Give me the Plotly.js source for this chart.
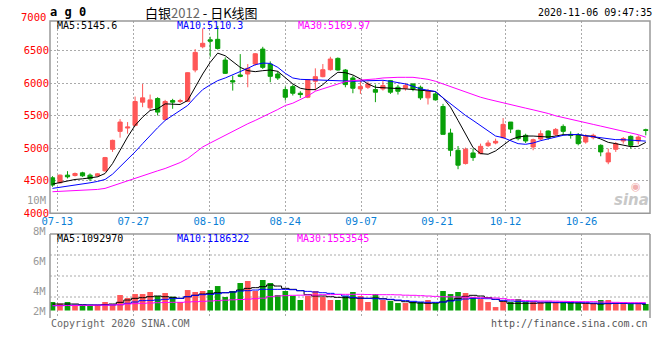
<!DOCTYPE html>
<html><head><meta charset="utf-8">
<script src="https://cdn.plot.ly/plotly-3.0.1.min.js"></script>
<style>html,body{margin:0;padding:0;background:#fff}#chart{width:660px;height:360px}</style>
</head><body><div id="chart"></div>
<script>
const dates=["07-10","07-13","07-14","07-15","07-16","07-17","07-20","07-21","07-22","07-23","07-24","07-27","07-28","07-29","07-30","07-31",
"08-03","08-04","08-05","08-06","08-07","08-10","08-11","08-12","08-13","08-14","08-17","08-18","08-19","08-20","08-21","08-24","08-25","08-26","08-27","08-28","08-31",
"09-01","09-02","09-03","09-04","09-07","09-08","09-09","09-10","09-11","09-14","09-15","09-16","09-17","09-18","09-21","09-22","09-23","09-24","09-25","09-28","09-29","09-30",
"10-09","10-12","10-13","10-14","10-15","10-16","10-19","10-20","10-21","10-22","10-23","10-26","10-27","10-28","10-29","10-30",
"11-02","11-03","11-04","11-05","11-06"];
const open=[4546,4469,4587,4581,4622,4587,4576,4653,4984,5260,5311,5352,5709,5622,5765,5443,5734,5719,5719,6203,6561,6668,6675,6356,6040,6127,6142,6295,6525,6295,6142,5902,5948,5846,5785,6030,6101,6208,6382,6203,6081,5913,5938,5902,5913,6040,5938,5923,5989,5938,5775,5836,5642,5234,4969,4765,4928,4918,5040,5081,5163,5403,5275,5199,5020,5142,5265,5214,5336,5214,5199,5096,5163,5045,4790,4984,5112,5183,5112,5285];
const high=[4571,4597,4648,4627,4638,4612,4617,4867,5132,5448,5403,5795,5989,5826,5785,5744,5760,5760,6168,6525,6844,6715,6880,6397,6117,6448,6295,6463,6560,6336,6183,5948,5979,5877,6065,6229,6295,6407,6397,6219,6117,6040,6025,5979,6040,6050,5974,6004,5999,5964,5913,5862,5683,5301,5035,5010,4995,5071,5122,5148,5464,5403,5285,5224,5148,5275,5275,5311,5367,5260,5234,5214,5224,5061,4995,5096,5173,5199,5199,5301];
const low=[4408,4459,4536,4566,4561,4495,4561,4638,4944,5163,5224,5336,5632,5581,5505,5428,5607,5693,5709,6168,6537,6408,6518,6142,5887,6091,5938,6270,6219,6015,6050,5734,5811,5775,5770,5887,6091,6193,6193,5938,5846,5836,5913,5709,5887,5836,5826,5887,5877,5744,5673,5734,5214,4877,4678,4750,4806,4908,5020,5061,5148,5234,5122,5081,4969,5122,5132,5188,5199,5148,5045,5071,5137,4877,4755,4944,5071,4995,5061,5199];
const close=[4434,4587,4561,4612,4576,4530,4607,4857,5122,5403,5326,5719,5775,5744,5556,5719,5709,5734,6162,6474,6614,6647,6534,6152,6020,6106,6229,6453,6244,6106,6081,5785,5846,5826,6055,6101,6208,6372,6203,5979,5923,5948,5989,5862,5964,5862,5877,5964,5913,5775,5887,5744,5214,4969,4740,4984,4857,5030,5081,5107,5367,5295,5148,5112,5132,5224,5163,5290,5260,5199,5071,5183,5199,4944,4928,5071,5148,5045,5173,5275];
const ma5=[4449,4474,4495,4520,4530,4546,4561,4612,4765,4969,5173,5352,5479,5581,5607,5683,5683,5673,5734,5938,6142,6321,6463,6423,6336,6244,6193,6178,6193,6203,6183,6081,5989,5923,5902,5902,5979,6081,6168,6162,6127,6066,5989,5938,5928,5923,5918,5913,5902,5887,5882,5872,5775,5632,5428,5224,5010,4918,4908,4959,5046,5132,5173,5188,5188,5183,5173,5188,5209,5209,5209,5193,5183,5142,5091,5071,5051,5025,5030,5090];
const ma10=[4383,4398,4418,4434,4449,4469,4490,4520,4602,4714,4826,4944,5071,5199,5316,5428,5505,5571,5658,5785,5902,5974,6040,6081,6127,6183,6229,6285,6310,6305,6244,6152,6081,6060,6055,6050,6050,6050,6045,6035,6030,6035,6040,6045,6045,6030,6015,5989,5953,5913,5892,5872,5775,5683,5591,5505,5428,5352,5275,5188,5163,5112,5071,5061,5081,5117,5148,5173,5199,5209,5214,5193,5178,5158,5142,5132,5132,5127,5112,5110];
const ma30=[4332,4337,4342,4347,4352,4357,4367,4383,4423,4459,4495,4536,4581,4617,4653,4689,4734,4780,4842,4928,5020,5081,5142,5199,5260,5326,5377,5428,5479,5540,5596,5658,5693,5744,5805,5877,5913,5953,5989,6025,6040,6045,6055,6066,6081,6091,6091,6091,6091,6076,6060,6030,5989,5948,5902,5862,5821,5785,5754,5729,5703,5673,5647,5617,5591,5566,5535,5499,5474,5443,5428,5397,5367,5341,5316,5285,5260,5239,5209,5170];
// volume in millions of lots
const volumeM=[1.47,1.18,1.47,1.01,0.95,0.95,0.95,1.47,1.01,2.67,2.16,2.84,2.84,3.19,2.50,3.02,2.38,1.47,3.53,3.19,3.36,3.53,4.22,2.33,3.36,4.74,5.09,3.36,5.26,4.74,2.67,3.36,2.50,1.81,2.50,3.36,2.33,1.81,1.81,2.50,3.19,2.50,1.47,2.84,1.81,1.64,1.29,1.29,1.47,1.47,1.81,1.29,3.36,2.84,3.19,3.02,2.33,1.98,1.47,0.60,1.47,1.47,1.98,1.47,1.47,1.47,1.47,1.47,1.47,1.47,1.47,1.29,1.29,1.81,1.81,1.29,1.29,1.29,1.29,1.12];
const volMa5=[1.12,1.12,1.12,1.12,1.01,0.95,0.95,1.01,1.12,1.41,1.81,2.10,2.21,2.38,2.50,2.38,2.27,2.10,2.38,2.62,2.84,2.96,3.07,3.07,3.19,3.53,3.82,3.94,4.11,4.40,4.22,3.82,3.65,3.42,2.73,2.50,2.50,2.38,2.27,2.21,2.16,2.10,2.10,2.16,2.04,1.87,1.70,1.52,1.35,1.29,1.24,1.29,1.47,1.75,2.10,2.44,2.62,2.50,2.21,1.93,1.58,1.24,1.24,1.24,1.24,1.29,1.35,1.35,1.35,1.29,1.29,1.24,1.18,1.12,1.18,1.24,1.24,1.24,1.24,1.09];
const volMa10=[0.83,0.86,0.89,0.92,0.95,0.95,0.95,0.95,0.95,1.01,1.24,1.47,1.70,1.75,1.81,1.93,2.04,2.10,2.38,2.62,2.73,2.79,2.90,3.07,3.19,3.36,3.42,3.53,3.65,3.65,3.65,3.65,3.59,3.42,3.30,3.19,3.07,2.96,2.79,2.50,2.27,2.16,2.10,2.04,1.98,1.93,1.81,1.70,1.58,1.47,1.41,1.41,1.47,1.64,1.81,1.98,2.10,2.10,2.04,1.93,1.75,1.64,1.58,1.52,1.52,1.47,1.47,1.41,1.41,1.41,1.41,1.35,1.29,1.24,1.24,1.24,1.24,1.18,1.18,1.19];
const volMa30=[0.83,0.83,0.86,0.86,0.89,0.89,0.92,0.92,0.95,1.01,1.12,1.18,1.24,1.29,1.35,1.38,1.41,1.41,1.47,1.52,1.58,1.64,1.70,1.78,1.84,1.90,1.95,2.04,2.13,2.38,2.50,2.56,2.62,2.64,2.67,2.67,2.73,2.73,2.76,2.79,2.79,2.79,2.76,2.73,2.73,2.73,2.70,2.64,2.62,2.56,2.50,2.44,2.38,2.36,2.33,2.30,2.27,2.21,2.16,2.16,2.04,1.87,1.81,1.70,1.67,1.64,1.64,1.61,1.58,1.55,1.52,1.52,1.52,1.47,1.44,1.41,1.38,1.35,1.35,1.36];
const tickDates=["07-13","07-27","08-10","08-24","09-07","09-21","10-12","10-26"];
const priceTicks=[4000,4500,5000,5500,6000,6500];
const topPriceLabel="7000";
const volTickLabels=["8M","6M","4M","2M"];
const priceMaText=["MA5:5145.6","MA10:5110.3","MA30:5169.97"];
const volMaText=["MA5:1092970","MA10:1186322","MA30:1553545"];

const RED="#ff5757", GREEN="#08a008", MONO="DejaVu Sans Mono, Liberation Mono, monospace";
const GRID="#aaaaaa";
const idx=dates.map((d,i)=>i);
// pixel helpers for layout placement
const PL=50,PR=650,PT=21,PB=318;
const px=v=>(v-PL)/(PR-PL), py=v=>(PB-v)/(PB-PT);
const tickPos=tickDates.map(d=>dates.indexOf(d)*1.0116-0.373);

const traces=[
 {type:'candlestick',x:idx,open:open,high:high,low:low,close:close,xaxis:'x',yaxis:'y',
  increasing:{line:{color:RED,width:1},fillcolor:RED},decreasing:{line:{color:GREEN,width:1},fillcolor:GREEN},
  whiskerwidth:0,hoverinfo:'skip',showlegend:false},
 {type:'scatter',mode:'lines',x:idx,y:ma5,line:{color:'#000',width:1},xaxis:'x',yaxis:'y',hoverinfo:'skip'},
 {type:'scatter',mode:'lines',x:idx,y:ma10,line:{color:'#0000ff',width:1},xaxis:'x',yaxis:'y',hoverinfo:'skip'},
 {type:'scatter',mode:'lines',x:idx,y:ma30,line:{color:'#ff00ff',width:1},xaxis:'x',yaxis:'y',hoverinfo:'skip'},
 {type:'bar',x:idx,y:volumeM,width:0.75,marker:{color:idx.map(i=>close[i]>=open[i]?RED:GREEN),line:{width:0}},xaxis:'x2',yaxis:'y2',hoverinfo:'skip'},
 {type:'scatter',mode:'lines',x:idx,y:volMa5,line:{color:'#000',width:1,shape:'hvh'},xaxis:'x2',yaxis:'y2',hoverinfo:'skip'},
 {type:'scatter',mode:'lines',x:idx,y:volMa10,line:{color:'#0000ff',width:1,shape:'hvh'},xaxis:'x2',yaxis:'y2',hoverinfo:'skip'},
 {type:'scatter',mode:'lines',x:idx,y:volMa30,line:{color:'#ff00ff',width:1,shape:'hvh'},xaxis:'x2',yaxis:'y2',hoverinfo:'skip'}
];

function ann(text,x,y,opt){return Object.assign({text:text,x:px(x),y:py(y),xref:'paper',yref:'paper',showarrow:false,xanchor:'left',yanchor:'middle',font:{family:MONO,size:10,color:'#000'}},opt||{});}
const annotations=[
 ann('a g 0',48,12,{font:{family:MONO,size:12,color:'#000',weight:'bold'}}),
 ann('白银<span style="color:#666">2012</span> - 日K线图',201,12,{xanchor:'center',font:{family:'Noto Sans CJK SC',size:13,color:'#000'}}),
 ann('2020-11-06 09:47:35',654,12,{xanchor:'right'}),
 ann(topPriceLabel,47.5,17,{xanchor:'right',font:{family:MONO,size:10.5,color:'#ff0000'}}),
 ann('10M',47.5,200,{xanchor:'right',font:{family:MONO,size:10.5,color:'#999'}}),
 ann(priceMaText[0],55,25,{font:{family:MONO,size:10,color:'#000'}}),
 ann(priceMaText[1],175,25,{font:{family:MONO,size:10,color:'#0000ff'}}),
 ann(priceMaText[2],296,25,{font:{family:MONO,size:10,color:'#ff00ff'}}),
 ann(volMaText[0],55,238.5,{font:{family:MONO,size:10,color:'#000'}}),
 ann(volMaText[1],175,238.5,{font:{family:MONO,size:10,color:'#0000ff'}}),
 ann(volMaText[2],295,238.5,{font:{family:MONO,size:10,color:'#ff00ff'}}),
 ann('Copyright 2020 SINA.COM',49,323.5,{font:{family:MONO,size:10,color:'#666'}}),
 ann('http://finance.sina.com.cn',650,323.5,{xanchor:'right',font:{family:MONO,size:10,color:'#555'}}),
 ann('<i><b>sina</b></i>',651,200,{xanchor:'right',font:{family:'DejaVu Sans',size:15,color:'#c8c8c8'}}),
 ann('◉',636,186,{xanchor:'center',font:{family:'DejaVu Sans',size:11,color:'#f0b0b0'}})
];
const volLabelY=[230.7,261,290.7,310.7];
volTickLabels.forEach((t,k)=>annotations.push(ann(t,47.5,volLabelY[k],{xanchor:'right',font:{family:MONO,size:10.5,color:'#999'}})));

const shapes=[
 {type:'rect',xref:'x domain',yref:'y domain',x0:0,x1:1,y0:0,y1:1,line:{color:'#999',width:1.5}},
 {type:'line',xref:'x2 domain',yref:'y2 domain',x0:0,x1:1,y0:1,y1:1,line:{color:'#999',width:1.5}},
 {type:'line',xref:'x2 domain',yref:'y2 domain',x0:0,x1:0,y0:0,y1:1,line:{color:'#999',width:1.5}},
 {type:'line',xref:'x2 domain',yref:'y2 domain',x0:1,x1:1,y0:0,y1:1,line:{color:'#999',width:1.5}}
];
[0.25,0.5,0.75].forEach(f=>shapes.push({type:'line',xref:'x2 domain',yref:'y2 domain',x0:0,x1:1,y0:f,y1:f,layer:'below',line:{color:GRID,width:1,dash:'2px,2px'}}));

const xr=[-0.33,79.56];
const layout={
 width:660,height:360,margin:{l:PL,r:660-PR,t:PT,b:360-PB},
 paper_bgcolor:'#fff',plot_bgcolor:'#fff',showlegend:false,boxgap:0.2,bargap:0.25,
 xaxis:{range:xr,anchor:'y',tickvals:tickPos,ticktext:tickDates,showgrid:true,gridcolor:GRID,griddash:'2px,2px',zeroline:false,showline:false,ticks:'',
  tickfont:{family:MONO,size:10.5,color:'#0a7fd6'},rangeslider:{visible:false},fixedrange:true},
 xaxis2:{range:xr,anchor:'y2',tickvals:tickPos,showticklabels:false,showgrid:true,gridcolor:GRID,griddash:'2px,2px',zeroline:false,showline:false,ticks:''},
 yaxis:{domain:[py(213.3),1],range:[4000,6957],tickvals:priceTicks,showgrid:true,gridcolor:GRID,griddash:'2px,2px',zeroline:false,ticks:'',
  tickfont:{family:MONO,size:10.5,color:'#ff0000'}},
 yaxis2:{domain:[0,py(234)],range:[-1.29,13.19],showticklabels:false,showgrid:false,zeroline:false},
 annotations:annotations,shapes:shapes
};
Plotly.newPlot('chart',traces,layout,{staticPlot:true,displayModeBar:false});
</script></body></html>
